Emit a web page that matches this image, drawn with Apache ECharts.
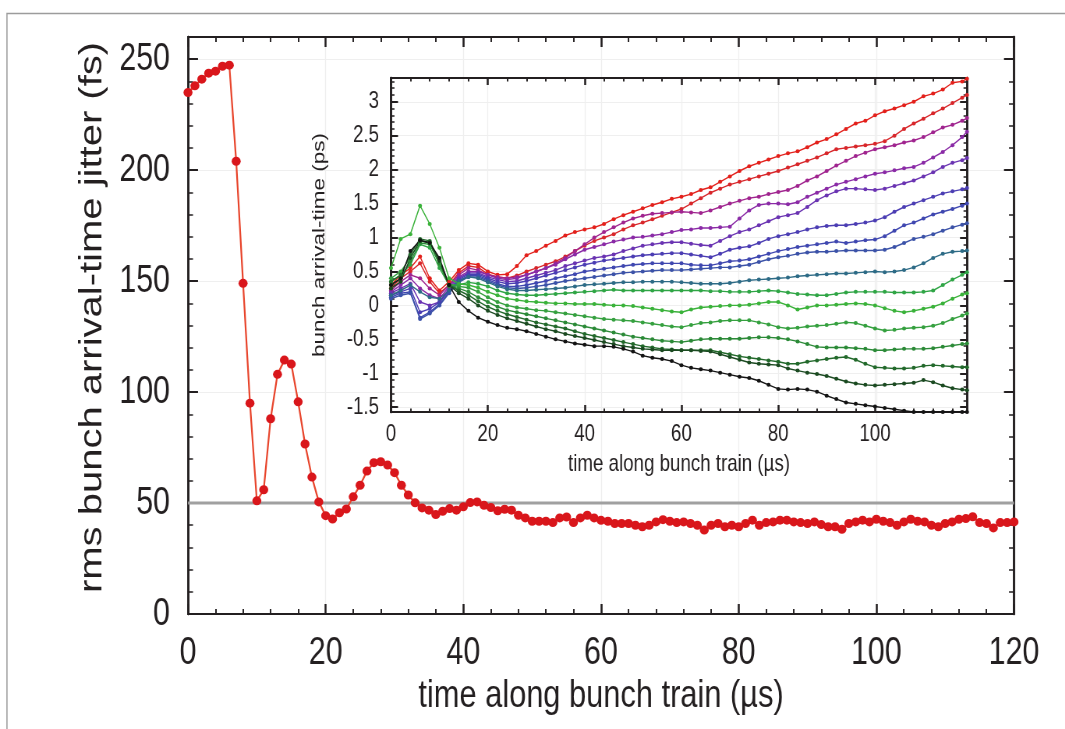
<!DOCTYPE html>
<html>
<head>
<meta charset="utf-8">
<script src="https://cdn.jsdelivr.net/npm/echarts@6/dist/echarts.min.js"></script>
<style>
  html, body { margin: 0; padding: 0; background: #ffffff; overflow: hidden; }
  /* the figure is laid out wide and then condensed horizontally into the page */
  #chart { width: 1366px; height: 729px; transform: scaleX(0.7797); transform-origin: 0 0; }
</style>
</head>
<body>
<div id="chart"></div>
<script>
// ---------- main panel: rms bunch arrival-time jitter, one bunch per µs ----------
const JITTER_FS = [
  235, 238, 241, 243.7, 244.6, 246.8, 247.3, 204, 149, 95,
  51, 56, 88, 108, 114.4, 112.6, 95.6, 76.6, 61.7, 50.5,
  44.3, 42.8, 45.6, 47.3, 52.8, 58, 64.4, 68.2, 68.6, 67.1,
  63.7, 58, 53.6, 50.1, 47.8, 46.8, 44.8, 46.3, 47.5, 46.8,
  48.3, 50.2, 50.5, 49, 48, 46.5, 47.2, 46.8, 44.5, 43.3,
  41.8, 41.8, 41.8, 41.2, 43.3, 43.7, 41.2, 43.3, 44.5, 43.3,
  42.2, 41.8, 40.8, 40.8, 40.8, 40, 39.3, 40, 41.5, 42.5,
  41.8, 41.2, 41.5, 40.8, 40.0, 37.8, 40.0, 40.8, 39.3, 40.0,
  39.3, 40.8, 42.3, 40.0, 41.2, 41.5, 42.3, 42.3, 41.5, 41.2,
  40.8, 41.5, 40.3, 39.3, 39.3, 38.2, 40.8, 41.5, 42.3, 41.5,
  42.7, 41.8, 41.2, 40.0, 41.5, 42.7, 41.8, 41.5, 40.0, 39.3,
  40.8, 41.5, 42.7, 43.0, 43.8, 41.2, 40.8, 38.8, 41.2, 41.2,
  41.5
];
const JITTER_REFERENCE_FS = 50;

const MAIN_X_MAJOR = [0, 20, 40, 60, 80, 100, 120];
const MAIN_X_MINOR = [4, 8, 12, 16, 24, 28, 32, 36, 44, 48, 52, 56, 64, 68, 72, 76, 84, 88, 92, 96, 104, 108, 112, 116];
const MAIN_Y_MAJOR = [0, 50, 100, 150, 200, 250];
const MAIN_Y_MINOR = [10, 20, 30, 40, 60, 70, 80, 90, 110, 120, 130, 140, 160, 170, 180, 190, 210, 220, 230, 240];

// ---------- inset: bunch arrival time along the train, 16 trains ----------
const INSET_T = [
  0, 2, 4, 6, 8, 10, 12, 14, 16, 18,
  20, 22, 24, 26, 28, 30, 32, 34, 36, 38,
  40, 42, 44, 46, 48, 50, 52, 54, 56, 58,
  60, 62, 64, 66, 68, 70, 72, 74, 76, 78,
  80, 82, 84, 86, 88, 90, 92, 94, 96, 98,
  100, 102, 104, 106, 108, 110, 112, 114, 116, 118,
  119
];
const TRAIN_01 = [
  0.30, 0.45, 0.55, 0.72, 0.40, 0.22, 0.35, 0.52, 0.62, 0.60,
  0.50, 0.45, 0.46, 0.58, 0.74, 0.80, 0.88, 0.95, 1.03, 1.08,
  1.12, 1.15, 1.20, 1.27, 1.33, 1.38, 1.43, 1.48, 1.52, 1.57,
  1.60, 1.64, 1.70, 1.74, 1.82, 1.90, 1.98, 2.05, 2.10, 2.15,
  2.20, 2.24, 2.27, 2.33, 2.40, 2.45, 2.52, 2.60, 2.68, 2.72,
  2.80, 2.86, 2.90, 2.95, 3.00, 3.08, 3.12, 3.18, 3.28, 3.30,
  3.34
];
const TRAIN_02 = [
  0.25, 0.40, 0.50, 0.62, 0.35, 0.18, 0.30, 0.48, 0.58, 0.56,
  0.46, 0.42, 0.40, 0.44, 0.50, 0.55, 0.60, 0.65, 0.72, 0.80,
  0.88, 0.95, 1.00, 1.05, 1.12, 1.18, 1.22, 1.27, 1.32, 1.37,
  1.42, 1.50, 1.58, 1.66, 1.72, 1.78, 1.82, 1.86, 1.90, 1.94,
  1.98, 2.03, 2.08, 2.13, 2.18, 2.24, 2.30, 2.32, 2.34, 2.36,
  2.38, 2.42, 2.50, 2.60, 2.68, 2.75, 2.83, 2.90, 2.98, 3.06,
  3.10
];
const TRAIN_03 = [
  0.22, 0.35, 0.45, 0.40, 0.25, 0.15, 0.30, 0.45, 0.55, 0.52,
  0.45, 0.42, 0.40, 0.42, 0.45, 0.50, 0.55, 0.62, 0.70, 0.80,
  0.90, 1.00, 1.08, 1.15, 1.22, 1.28, 1.32, 1.35, 1.36, 1.37,
  1.38, 1.37, 1.36, 1.40, 1.45, 1.50, 1.54, 1.58, 1.60, 1.64,
  1.67, 1.70, 1.76, 1.84, 1.90, 1.98, 2.06, 2.13, 2.20, 2.25,
  2.30, 2.33, 2.36, 2.40, 2.43, 2.48, 2.55, 2.62, 2.66, 2.72,
  2.76
];
const TRAIN_04 = [
  0.20, 0.30, 0.40, 0.25, 0.15, 0.10, 0.28, 0.42, 0.50, 0.50,
  0.45, 0.40, 0.38, 0.40, 0.45, 0.50, 0.55, 0.60, 0.68, 0.75,
  0.82, 0.86, 0.90, 0.94, 0.97, 1.00, 1.01, 1.03, 1.05, 1.08,
  1.11, 1.12, 1.14, 1.14, 1.15, 1.16, 1.28, 1.40, 1.48, 1.50,
  1.50, 1.49, 1.52, 1.60, 1.66, 1.72, 1.78, 1.82, 1.86, 1.90,
  1.94, 1.96, 1.99, 2.02, 2.04, 2.10, 2.18, 2.26, 2.36, 2.48,
  2.56
];
const TRAIN_05 = [
  0.18, 0.25, 0.32, 0.05, 0.00, 0.05, 0.25, 0.40, 0.48, 0.48,
  0.42, 0.38, 0.35, 0.36, 0.40, 0.44, 0.48, 0.52, 0.58, 0.62,
  0.66, 0.70, 0.72, 0.75, 0.80, 0.84, 0.88, 0.90, 0.92, 0.93,
  0.93, 0.91, 0.89, 0.88, 0.95, 1.02, 1.08, 1.12, 1.18, 1.24,
  1.30, 1.33, 1.36, 1.45, 1.55, 1.62, 1.68, 1.72, 1.72, 1.71,
  1.70, 1.72, 1.76, 1.80, 1.84, 1.90, 1.96, 2.04, 2.10, 2.14,
  2.17
];
const TRAIN_06 = [
  0.15, 0.20, 0.25, -0.10, -0.05, 0.05, 0.22, 0.38, 0.46, 0.46,
  0.40, 0.35, 0.32, 0.33, 0.36, 0.40, 0.44, 0.48, 0.52, 0.56,
  0.60, 0.63, 0.66, 0.68, 0.70, 0.72, 0.74, 0.75, 0.76, 0.77,
  0.77, 0.75, 0.73, 0.71, 0.76, 0.82, 0.85, 0.87, 0.92, 0.98,
  1.02, 1.05, 1.08, 1.12, 1.15, 1.17, 1.18, 1.18, 1.20, 1.22,
  1.25, 1.30, 1.38, 1.45, 1.50, 1.55, 1.60, 1.65, 1.68, 1.71,
  1.73
];
const TRAIN_07 = [
  0.12, 0.18, 0.20, -0.18, -0.10, 0.02, 0.20, 0.36, 0.44, 0.44,
  0.38, 0.32, 0.28, 0.28, 0.30, 0.33, 0.36, 0.40, 0.43, 0.46,
  0.50, 0.52, 0.54, 0.56, 0.58, 0.60, 0.61, 0.62, 0.62, 0.62,
  0.62, 0.60, 0.59, 0.59, 0.62, 0.65, 0.66, 0.68, 0.72, 0.76,
  0.80, 0.83, 0.86, 0.88, 0.90, 0.92, 0.94, 0.92, 0.94, 0.96,
  0.97, 1.02, 1.10, 1.18, 1.22, 1.28, 1.34, 1.38, 1.42, 1.47,
  1.50
];
const TRAIN_08 = [
  0.10, 0.15, 0.18, -0.20, -0.12, 0.00, 0.18, 0.34, 0.42, 0.42,
  0.36, 0.30, 0.26, 0.25, 0.26, 0.28, 0.30, 0.33, 0.36, 0.38,
  0.40, 0.42, 0.44, 0.46, 0.48, 0.49, 0.50, 0.51, 0.52, 0.52,
  0.52, 0.53, 0.54, 0.55, 0.56, 0.56, 0.58, 0.60, 0.64, 0.68,
  0.71, 0.73, 0.76, 0.78, 0.79, 0.79, 0.80, 0.81, 0.81, 0.81,
  0.81, 0.82, 0.86, 0.92, 0.98, 1.01, 1.05, 1.10, 1.15, 1.19,
  1.21
];
const TRAIN_09 = [
  0.15, 0.22, 0.30, 0.20, 0.12, 0.10, 0.22, 0.36, 0.42, 0.40,
  0.34, 0.28, 0.24, 0.22, 0.22, 0.23, 0.24, 0.25, 0.26, 0.28,
  0.30, 0.31, 0.32, 0.33, 0.34, 0.34, 0.35, 0.35, 0.35, 0.35,
  0.34, 0.33, 0.32, 0.32, 0.32, 0.33, 0.35, 0.37, 0.38, 0.39,
  0.40, 0.41, 0.43, 0.44, 0.45, 0.46, 0.47, 0.47, 0.48, 0.49,
  0.50, 0.49, 0.50, 0.52, 0.56, 0.62, 0.70, 0.76, 0.79, 0.80,
  0.81
];
const TRAIN_10 = [
  0.35, 0.45, 0.60, 0.90, 0.85, 0.55, 0.30, 0.30, 0.34, 0.32,
  0.28, 0.22, 0.18, 0.16, 0.15, 0.15, 0.16, 0.17, 0.18, 0.19,
  0.20, 0.21, 0.22, 0.23, 0.22, 0.22, 0.22, 0.22, 0.22, 0.22,
  0.22, 0.22, 0.22, 0.21, 0.21, 0.20, 0.20, 0.20, 0.21, 0.22,
  0.21, 0.19, 0.17, 0.16, 0.15, 0.15, 0.17, 0.19, 0.20, 0.20,
  0.20, 0.20, 0.19, 0.19, 0.19, 0.20, 0.22, 0.30, 0.38, 0.45,
  0.49
];
const TRAIN_11 = [
  0.55, 0.98, 1.05, 1.47, 1.20, 0.85, 0.40, 0.32, 0.30, 0.26,
  0.20, 0.15, 0.10, 0.08, 0.06, 0.05, 0.04, 0.03, 0.03, 0.02,
  0.02, 0.02, 0.01, 0.00, 0.00, -0.01, -0.03, -0.05, -0.07, -0.09,
  -0.10, -0.06, -0.03, -0.02, -0.01, 0.00, 0.00, 0.01, 0.03, 0.05,
  0.05, 0.00, -0.06, -0.03, 0.00, 0.00, 0.01, 0.02, 0.03, 0.02,
  0.00, -0.04, -0.08, -0.10, -0.08, -0.05, -0.02, 0.03, 0.10, 0.16,
  0.18
];
const TRAIN_12 = [
  0.40, 0.50, 0.70, 0.95, 0.92, 0.60, 0.30, 0.28, 0.26, 0.20,
  0.12, 0.05, 0.00, -0.03, -0.05, -0.07, -0.08, -0.10, -0.12, -0.14,
  -0.16, -0.18, -0.20, -0.21, -0.22, -0.23, -0.25, -0.27, -0.29, -0.31,
  -0.32, -0.29, -0.26, -0.25, -0.23, -0.22, -0.22, -0.22, -0.25, -0.28,
  -0.32, -0.34, -0.33, -0.31, -0.30, -0.29, -0.27, -0.25, -0.26, -0.30,
  -0.34, -0.37, -0.36, -0.34, -0.33, -0.32, -0.30, -0.26, -0.20, -0.15,
  -0.12
];
const TRAIN_13 = [
  0.30, 0.40, 0.65, 0.92, 0.90, 0.62, 0.28, 0.25, 0.20, 0.12,
  0.05, -0.02, -0.07, -0.10, -0.13, -0.16, -0.19, -0.22, -0.25, -0.28,
  -0.31, -0.34, -0.37, -0.40, -0.43, -0.46, -0.48, -0.50, -0.52, -0.53,
  -0.54, -0.52, -0.50, -0.49, -0.49, -0.49, -0.49, -0.48, -0.47, -0.47,
  -0.48, -0.50, -0.53, -0.57, -0.61, -0.62, -0.62, -0.62, -0.63, -0.64,
  -0.66, -0.66, -0.65, -0.64, -0.64, -0.64, -0.63, -0.61, -0.59, -0.57,
  -0.56
];
const TRAIN_14 = [
  0.35, 0.45, 0.75, 0.98, 0.95, 0.65, 0.30, 0.22, 0.15, 0.06,
  -0.02, -0.08, -0.13, -0.17, -0.21, -0.25, -0.28, -0.31, -0.34, -0.38,
  -0.42, -0.45, -0.48, -0.51, -0.54, -0.57, -0.60, -0.62, -0.64, -0.65,
  -0.66, -0.66, -0.66, -0.66, -0.69, -0.72, -0.75, -0.77, -0.79, -0.81,
  -0.83, -0.86, -0.86, -0.83, -0.81, -0.79, -0.77, -0.76, -0.80, -0.86,
  -0.91, -0.92, -0.93, -0.93, -0.92, -0.89, -0.88, -0.89, -0.90, -0.91,
  -0.91
];
const TRAIN_15 = [
  0.25, 0.35, 0.70, 0.95, 0.93, 0.66, 0.30, 0.18, 0.10, 0.00,
  -0.08, -0.14, -0.19, -0.23, -0.27, -0.31, -0.35, -0.38, -0.42, -0.45,
  -0.48, -0.51, -0.54, -0.57, -0.60, -0.62, -0.64, -0.65, -0.66, -0.66,
  -0.66, -0.66, -0.67, -0.68, -0.72, -0.76, -0.80, -0.84, -0.86, -0.87,
  -0.88, -0.93, -0.96, -0.99, -1.01, -1.04, -1.08, -1.12, -1.15, -1.17,
  -1.18, -1.17, -1.16, -1.15, -1.14, -1.10, -1.13, -1.18, -1.22, -1.24,
  -1.25
];
const TRAIN_16 = [
  0.30, 0.40, 0.80, 0.96, 0.92, 0.70, 0.30, 0.05, -0.08, -0.18,
  -0.24, -0.29, -0.33, -0.35, -0.38, -0.42, -0.46, -0.50, -0.53, -0.56,
  -0.58, -0.60, -0.60, -0.61, -0.64, -0.68, -0.74, -0.77, -0.79, -0.82,
  -0.88, -0.92, -0.94, -0.96, -0.99, -1.02, -1.05, -1.07, -1.11, -1.17,
  -1.23, -1.24, -1.23, -1.24, -1.27, -1.33, -1.38, -1.43, -1.45, -1.47,
  -1.49, -1.51, -1.53, -1.55, -1.57, -1.57, -1.57, -1.57, -1.57, -1.57,
  -1.57
];
const TRAINS = [
  TRAIN_01, TRAIN_02, TRAIN_03, TRAIN_04, TRAIN_05, TRAIN_06, TRAIN_07, TRAIN_08,
  TRAIN_09, TRAIN_10, TRAIN_11, TRAIN_12, TRAIN_13, TRAIN_14, TRAIN_15, TRAIN_16
];
const TRAIN_COLORS = [
  '#e3201b', '#d8262a', '#a0248f', '#8a2aa6', '#6a33b2', '#4b3db3', '#3f47b0', '#3b52a8',
  '#2d6b86', '#2fa545', '#3ab23a', '#35a03f', '#2b8a37', '#22692b', '#1b4a21', '#141414'
];

const INSET_X_MAJOR = [0, 20, 40, 60, 80, 100];
const INSET_X_MINOR = [4, 8, 12, 16, 24, 28, 32, 36, 44, 48, 52, 56, 64, 68, 72, 76, 84, 88, 92, 96, 104, 108, 112, 116];
const INSET_Y_MAJOR = [-1.5, -1, -0.5, 0, 0.5, 1, 1.5, 2, 2.5, 3];
const INSET_Y_MINOR = [
  -1.4, -1.3, -1.2, -1.1, -0.9, -0.8, -0.7, -0.6, -0.4, -0.3, -0.2, -0.1,
  0.1, 0.2, 0.3, 0.4, 0.6, 0.7, 0.8, 0.9, 1.1, 1.2, 1.3, 1.4, 1.6, 1.7, 1.8, 1.9,
  2.1, 2.2, 2.3, 2.4, 2.6, 2.7, 2.8, 2.9, 3.1, 3.2, 3.3
];

// ---------- styling ----------
// The canvas is drawn wide and condensed by CSS; horizontal sizes are given
// in page pixels and widened here so they land where intended.
const SQUEEZE = 0.7797;
const wide = v => v / SQUEEZE;

const INK = '#231f20';
const FONT = '"Liberation Sans", Arial, Helvetica, sans-serif';

// One side of a panel frame carrying either long (major) or short (minor) ticks.
function frameAxis(dim, gridIndex, position, min, max, ticks, major, extra) {
  const isMain = gridIndex === 0;
  let len = major ? (isMain ? 10 : 7) : (isMain ? 5 : 3.5);
  let lineW = 2, tickW = major ? 2 : 1.5;
  if (dim === 'y') {
    len = wide(len);            // ticks on a y axis run horizontally
    lineW = wide(2);            // the y axis line itself is vertical
  } else {
    tickW = wide(tickW);        // ticks on an x axis are vertical strokes
  }
  const ax = {
    type: 'value',
    gridIndex: gridIndex,
    position: position,
    min: min,
    max: max,
    axisLine: { show: true, onZero: false, lineStyle: { color: INK, width: lineW } },
    axisTick: {
      show: true, inside: true, length: len, customValues: ticks,
      lineStyle: { color: INK, width: tickW }
    },
    axisLabel: { show: false },
    splitLine: { show: false },
    nameMoveOverlap: false,
    z: 1
  };
  return Object.assign(ax, extra || {});
}

const mainLabel = { show: true, color: INK, fontFamily: FONT, fontSize: 39 };
const insetLabel = { show: true, color: INK, fontFamily: FONT, fontSize: 24 };
const faintSplitX = { show: true, lineStyle: { color: '#efefef', width: wide(1) } };
const faintSplitY = { show: true, lineStyle: { color: '#efefef', width: 1 } };

const xAxes = [
  // main panel
  frameAxis('x', 0, 'bottom', 0, 120, MAIN_X_MAJOR, true, {
    axisLabel: Object.assign({ customValues: MAIN_X_MAJOR, margin: 20 }, mainLabel),
    splitLine: faintSplitX,
    name: 'time along bunch train (µs)', nameLocation: 'middle', nameGap: 62,
    nameTextStyle: { color: INK, fontFamily: FONT, fontSize: 39.5 }
  }),
  frameAxis('x', 0, 'bottom', 0, 120, MAIN_X_MINOR, false),
  frameAxis('x', 0, 'top', 0, 120, MAIN_X_MAJOR, true),
  frameAxis('x', 0, 'top', 0, 120, MAIN_X_MINOR, false),
  // inset
  frameAxis('x', 1, 'bottom', 0, 119, INSET_X_MAJOR, true, {
    axisLabel: Object.assign({ customValues: INSET_X_MAJOR, margin: 10 }, insetLabel),
    splitLine: faintSplitX,
    name: 'time along bunch train (µs)', nameLocation: 'middle', nameGap: 40,
    nameTextStyle: { color: INK, fontFamily: FONT, fontSize: 24 }
  }),
  frameAxis('x', 1, 'bottom', 0, 119, INSET_X_MINOR, false),
  frameAxis('x', 1, 'top', 0, 119, INSET_X_MAJOR, true),
  frameAxis('x', 1, 'top', 0, 119, INSET_X_MINOR, false)
];

const yAxes = [
  // main panel
  frameAxis('y', 0, 'left', 0, 260, MAIN_Y_MAJOR, true, {
    axisLabel: Object.assign({ customValues: MAIN_Y_MAJOR, margin: wide(18) }, mainLabel),
    splitLine: faintSplitY,
    name: 'rms bunch arrival-time jitter (fs)', nameLocation: 'middle', nameGap: 102,
    nameTextStyle: { color: INK, fontFamily: FONT, fontSize: 40, padding: [0, 0, 0, 16] }
  }),
  frameAxis('y', 0, 'left', 0, 260, MAIN_Y_MINOR, false),
  frameAxis('y', 0, 'right', 0, 260, MAIN_Y_MAJOR, true),
  frameAxis('y', 0, 'right', 0, 260, MAIN_Y_MINOR, false),
  // inset
  frameAxis('y', 1, 'left', -1.57, 3.35, INSET_Y_MAJOR, true, {
    axisLabel: Object.assign({ customValues: INSET_Y_MAJOR, margin: wide(12) }, insetLabel),
    splitLine: faintSplitY,
    name: 'bunch arrival-time (ps)', nameLocation: 'middle', nameGap: 80,
    nameTextStyle: { color: INK, fontFamily: FONT, fontSize: 22.5 }
  }),
  frameAxis('y', 1, 'left', -1.57, 3.35, INSET_Y_MINOR, false),
  frameAxis('y', 1, 'right', -1.57, 3.35, INSET_Y_MAJOR, true),
  frameAxis('y', 1, 'right', -1.57, 3.35, INSET_Y_MINOR, false)
];

const series = [];

// 50 fs reference level across the whole train
series.push({
  name: 'reference level',
  type: 'line',
  xAxisIndex: 0,
  yAxisIndex: 0,
  data: [[MAIN_X_MAJOR[0], JITTER_REFERENCE_FS], [MAIN_X_MAJOR[MAIN_X_MAJOR.length - 1], JITTER_REFERENCE_FS]],
  symbol: 'none',
  lineStyle: { color: '#a0a0a0', width: 3 },
  silent: true,
  z: 8
});

// jitter curve
series.push({
  name: 'rms jitter',
  type: 'line',
  xAxisIndex: 0,
  yAxisIndex: 0,
  data: JITTER_FS.map((v, i) => [i, v]),
  symbol: 'circle',
  symbolSize: [wide(9), 9],
  itemStyle: { color: '#d9161b', borderWidth: 0 },
  lineStyle: { color: '#e8452c', width: 2.2 },
  z: 10
});

// inset traces
TRAINS.forEach((vals, k) => {
  series.push({
    name: 'train ' + (k + 1),
    type: 'line',
    xAxisIndex: 4,
    yAxisIndex: 4,
    data: vals.map((v, i) => [INSET_T[i], v]),
    symbol: 'circle',
    symbolSize: [wide(4), 4],
    itemStyle: { color: TRAIN_COLORS[k], borderWidth: 0 },
    lineStyle: { color: TRAIN_COLORS[k], width: 1.4 },
    z: 9
  });
});

const chart = echarts.init(document.getElementById('chart'), null, { renderer: 'canvas' });
chart.setOption({
  animation: false,
  backgroundColor: '#ffffff',
  grid: [
    { left: wide(188), top: 37, width: wide(826), height: 577, containLabel: false },
    { left: wide(391), top: 78, width: wide(576), height: 334, containLabel: false }
  ],
  xAxis: xAxes,
  yAxis: yAxes,
  series: series,
  graphic: [{
    type: 'rect',
    left: wide(5), top: 11,
    shape: { width: wide(1100), height: 800 },
    style: { fill: 'none', stroke: '#9c9c9c', lineWidth: 1.5 },
    silent: true,
    z: 0
  }]
});
</script>
</body>
</html>
